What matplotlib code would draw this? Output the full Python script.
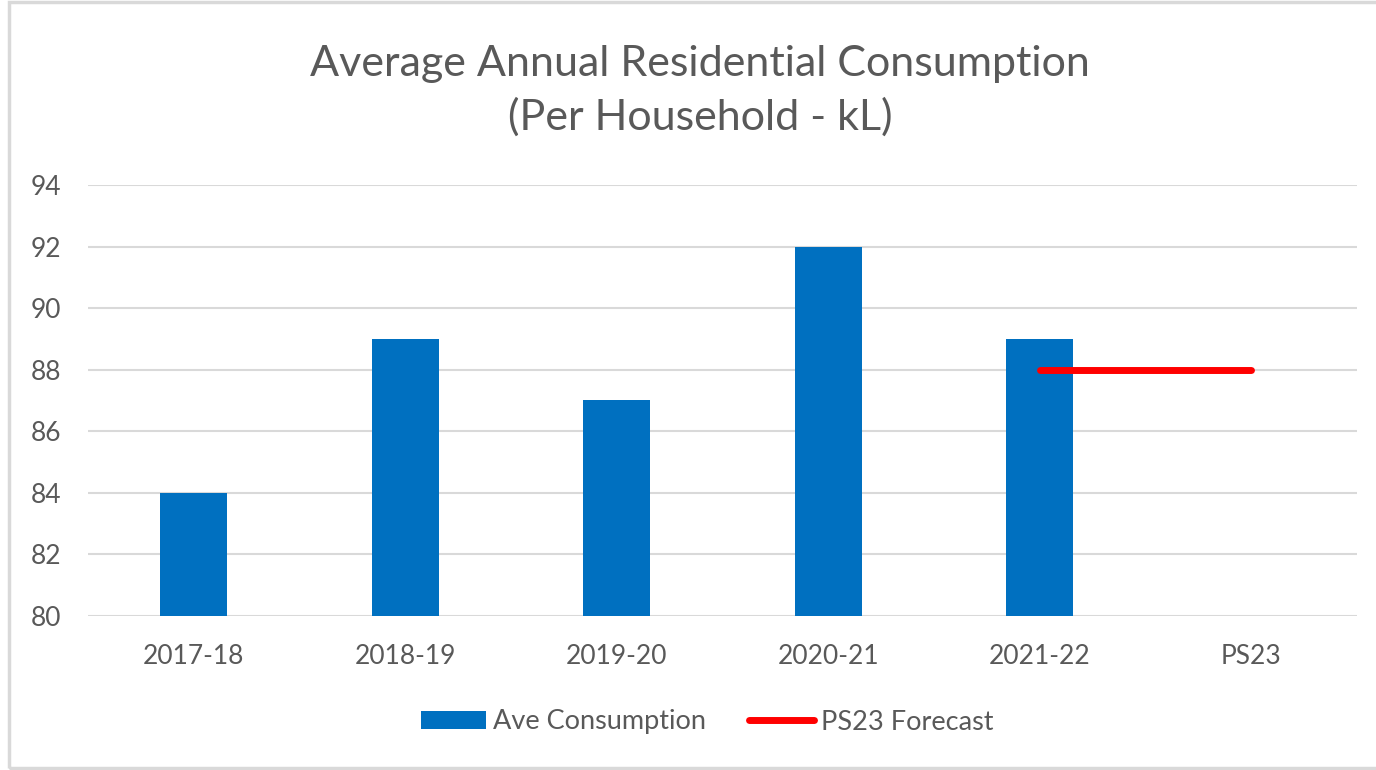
import numpy as np
import matplotlib
matplotlib.use("Agg")
import matplotlib.pyplot as plt
from matplotlib.patches import Rectangle, Patch
from matplotlib.lines import Line2D

years = ["2017-18", "2018-19", "2019-20", "2020-21", "2021-22", "PS23"]
ave_consumption = [84, 89, 87, 92, 89, None]
forecast_years = ["2021-22", "PS23"]
forecast_values = [88, 88]
y_ticks = [80, 82, 84, 86, 88, 90, 92, 94]

W, H = 1376, 770
plt.rcParams['font.family'] = ['Lato', 'DejaVu Sans']
text_col = '#595959'

fig = plt.figure(figsize=(W / 100, H / 100), dpi=100)
fig.patch.set_facecolor('white')

# light frame round the chart
fig.patches.append(Rectangle((9 / W, 2 / H), 1.2, 766 / H, transform=fig.transFigure,
                             fill=False, edgecolor='#d9d9d9', linewidth=2.5, clip_on=False))

ax = fig.add_axes([88 / W, (H - 616) / H, (1357 - 88) / W, (616 - 185) / H])

x = np.arange(len(years))
bar_x = [i for i, v in enumerate(ave_consumption) if v is not None]
bar_h = [v - 80 for v in ave_consumption if v is not None]
ax.bar(bar_x, bar_h, bottom=80, width=0.315, color='#0070c0', zorder=3)

fx = [years.index(y) for y in forecast_years]
ax.plot(fx, forecast_values, color='#ff0000', linewidth=5, solid_capstyle='round', zorder=4)

ax.set_xlim(-0.5, len(years) - 0.5)
ax.set_ylim(80, 94)
ax.set_yticks(y_ticks)
ax.set_xticks(x)
ax.set_xticklabels(years)
ax.grid(axis='y', color='#d9d9d9', linewidth=1.5, zorder=0)
for s in ax.spines.values():
    s.set_visible(False)
ax.tick_params(axis='both', length=0, labelsize=19, labelcolor=text_col)
ax.tick_params(axis='y', pad=19)
ax.tick_params(axis='x', pad=20)

fig.text(700 / W, 1 - 91 / H, "Average Annual Residential Consumption\n(Per Household - kL)",
         ha='center', va='center', fontsize=31, color=text_col, linespacing=1.45)

handles = [Patch(facecolor='#0070c0', edgecolor='none'),
           Line2D([0], [0], color='#ff0000', linewidth=5, solid_capstyle='round')]
fig.legend(handles, ["Ave Consumption", "PS23 Forecast"], loc='center',
           bbox_to_anchor=(707 / W, 1 - 722 / H), ncol=2, frameon=False,
           fontsize=19.5, labelcolor=text_col, handlelength=2.4, handletextpad=0.25,
           columnspacing=1.6, handleheight=0.6)

fig.savefig("out.png", dpi=100, facecolor='white')
